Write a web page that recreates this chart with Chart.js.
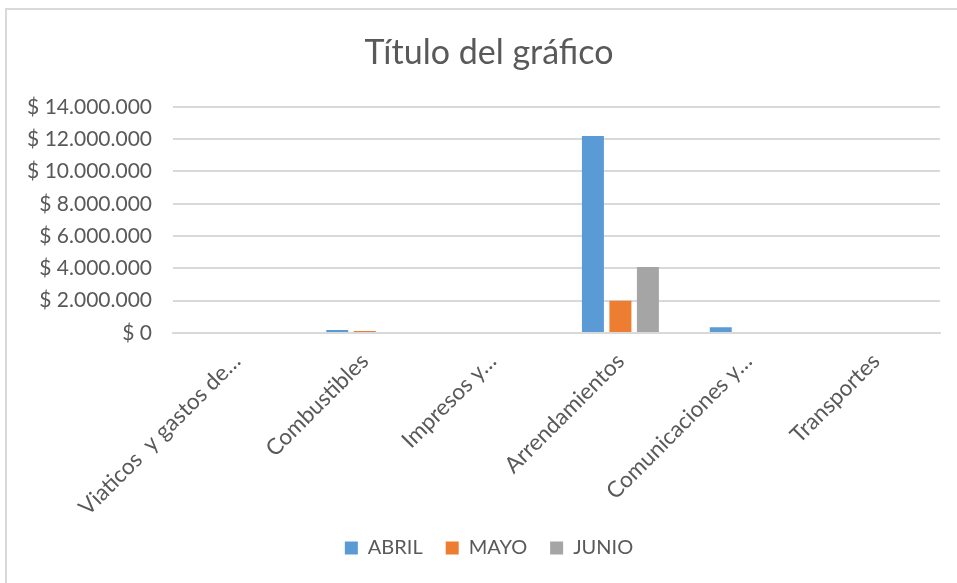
<!DOCTYPE html>
<html>
<head>
<meta charset="utf-8">
<script src="https://cdn.jsdelivr.net/npm/chart.js@4.4.1/dist/chart.umd.min.js"></script>
<style>
    html, body { margin: 0; padding: 0; background: #fff; }
    #wrap { position: relative; width: 957px; height: 583px; overflow: hidden; }
    #frame {
        position: absolute; left: 5px; top: 8px; width: 980px; height: 590px;
        border-left: 2px solid #d9d9d9; border-top: 2px solid #d9d9d9;
        pointer-events: none;
    }
</style>
</head>
<body>
<div id="wrap">
    <canvas id="chart" width="957" height="583"></canvas>
    <div id="frame"></div>
</div>
<script>
const categories = ['Viaticos  y gastos de…', 'Combustibles', 'Impresos y…', 'Arrendamientos', 'Comunicaciones y…', 'Transportes'];
const abril = [0, 190000, 0, 12200000, 360000, 0];
const mayo = [0, 130000, 0, 2000000, 0, 0];
const junio = [0, 0, 0, 4080000, 0, 0];
const yTicks = [0, 2000000, 4000000, 6000000, 8000000, 10000000, 12000000, 14000000];

const textColor = '#595959';
const gridColor = '#d9d9d9';
const fontFamily = "Lato, 'Open Sans', sans-serif";

function pesos(v) {
    return '$ ' + String(v).replace(/\B(?=(\d{3})+(?!\d))/g, '.');
}

// the chart frame runs past the right edge of the window, so title and legend
// are centred on the frame rather than on the visible canvas
const frameCenter = {
    id: 'frameCenter',
    beforeDraw: function (chart) {
        [chart.titleBlock, chart.legend].forEach(function (box) {
            if (!box) return;
            box.left = 0;
            box.right = 978;
            box.width = 978;
        });
    }
};

new Chart(document.getElementById('chart'), {
    type: 'bar',
    data: {
        labels: categories,
        datasets: [
            { label: 'ABRIL', data: abril, backgroundColor: '#5b9bd5' },
            { label: 'MAYO', data: mayo, backgroundColor: '#ed7d31' },
            { label: 'JUNIO', data: junio, backgroundColor: '#a5a5a5' }
        ]
    },
    options: {
        responsive: false,
        animation: false,
        devicePixelRatio: 1,
        barPercentage: 0.8,
        categoryPercentage: 0.645,
        layout: { padding: { left: 0, right: 17, top: 33, bottom: 15 } },
        plugins: {
            title: {
                display: true,
                text: 'Título del gráfico',
                color: textColor,
                font: { family: fontFamily, size: 34, weight: 'normal' },
                padding: { top: 0, bottom: 33 }
            },
            legend: {
                position: 'bottom',
                labels: {
                    color: textColor,
                    boxWidth: 13,
                    boxHeight: 13,
                    padding: 23,
                    font: { family: fontFamily, size: 20 }
                }
            },
            tooltip: { enabled: false }
        },
        scales: {
            x: {
                grid: { display: false, drawTicks: false },
                border: { display: true, color: gridColor, width: 2 },
                ticks: {
                    color: textColor,
                    font: { family: fontFamily, size: 22.5 },
                    minRotation: 45,
                    maxRotation: 45,
                    autoSkip: false,
                    padding: 15
                },
                afterFit: function (scale) { scale.height = 182; }
            },
            y: {
                min: 0,
                max: 14000000,
                afterBuildTicks: function (scale) {
                    scale.ticks = yTicks.map(v => ({ value: v }));
                },
                grid: { color: gridColor, lineWidth: 2, drawTicks: false },
                border: { display: false },
                ticks: {
                    color: textColor,
                    font: { family: fontFamily, size: 21 },
                    padding: 21,
                    callback: function (v) { return pesos(v); }
                },
                afterFit: function (scale) { scale.width = 173; }
            }
        }
    },
    plugins: [frameCenter]
});
</script>
</body>
</html>
